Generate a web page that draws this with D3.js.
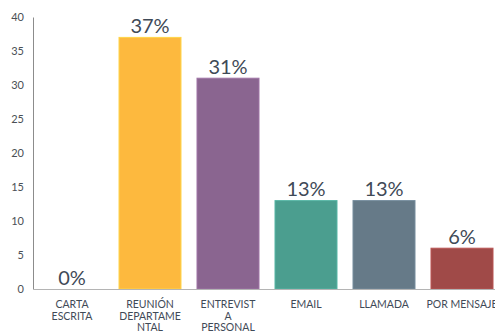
<!DOCTYPE html>
<html>
<head>
<meta charset="utf-8">
<script src="https://cdn.jsdelivr.net/npm/d3@7"></script>
<style>
	body { margin: 0; background: #fff; }
	svg { display: block; font-family: Lato, "Open Sans", sans-serif; }
</style>
</head>
<body>
<svg id="chart" width="495" height="333"></svg>
<script>
//Data
const CATEGORIES = ["carta", "reunion", "entrevista", "email", "llamada", "mensaje"];
const TICK_LABELS = [
	["CARTA", "ESCRITA"],
	["REUNIÓN", "DEPARTAME", "NTAL"],
	["ENTREVIST", "A", "PERSONAL"],
	["EMAIL"],
	["LLAMADA"],
	["POR MENSAJE"]
];
const VALUES = [0, 37, 31, 13, 13, 6];
const VALUE_LABELS = ["0%", "37%", "31%", "13%", "13%", "6%"];
const COLORS = ["#f0f0f0", "#fdb93e", "#8a6590", "#4b9e8f", "#667a88", "#a04a48"];
const Y_TICKS = [0, 5, 10, 15, 20, 25, 30, 35, 40];

//Chart
const svg = d3.select("#chart");
const plotLeft = 33, plotRight = 501, plotTop = 17, plotBottom = 289;

const xScale = d3.scaleBand()
	.domain(CATEGORIES)
	.range([plotLeft, plotRight])
	.paddingInner(16 / 78)
	.paddingOuter(8 / 78);

const yScale = d3.scaleLinear().domain([0, 40]).range([plotBottom, plotTop]);

// y axis
const yAxis = svg.append("g")
	.attr("transform", "translate(" + plotLeft + ",0)")
	.call(d3.axisLeft(yScale).tickValues(Y_TICKS).tickSize(0).tickPadding(9));
yAxis.select(".domain").attr("stroke", "#8c8c8c");
yAxis.selectAll("text")
	.attr("font-size", "11px")
	.attr("fill", "#4a4f55")
	.attr("font-family", "Lato, sans-serif");

// bars
svg.selectAll(".bar")
	.data(VALUES)
	.enter().append("rect")
	.attr("class", "bar")
	.attr("x", function (d, i) { return xScale(CATEGORIES[i]); })
	.attr("y", function (d) { return yScale(d); })
	.attr("width", xScale.bandwidth())
	.attr("height", function (d) { return plotBottom - yScale(d); })
	.attr("fill", function (d, i) { return COLORS[i]; })
	.attr("stroke", function (d, i) { return d3.color(COLORS[i]).brighter(0.4); })
	.attr("stroke-width", 1);

// x axis
const xAxis = svg.append("g")
	.attr("transform", "translate(0," + plotBottom + ")")
	.call(d3.axisBottom(xScale).tickSize(0).tickFormat(""));
xAxis.select(".domain").attr("stroke", "#b4b4b4");

xAxis.selectAll(".tick text").remove();
xAxis.selectAll(".tick").each(function (d, i) {
	const t = d3.select(this).append("text")
		.attr("text-anchor", "middle")
		.attr("fill", "#3f4a57")
		.attr("font-size", "10.5px")
		.attr("font-family", "Lato, sans-serif");
	TICK_LABELS[i].forEach(function (line, j) {
		t.append("tspan")
			.attr("x", 0)
			.attr("y", 19 + j * 11.5)
			.text(line);
	});
});

// value labels
svg.selectAll(".value")
	.data(VALUES)
	.enter().append("text")
	.attr("class", "value")
	.attr("x", function (d, i) { return xScale(CATEGORIES[i]) + xScale.bandwidth() / 2; })
	.attr("y", function (d) { return yScale(d) - 4.5; })
	.attr("text-anchor", "middle")
	.attr("font-size", "20px")
	.attr("fill", "#3f4a57")
	.text(function (d, i) { return VALUE_LABELS[i]; });
</script>
</body>
</html>
